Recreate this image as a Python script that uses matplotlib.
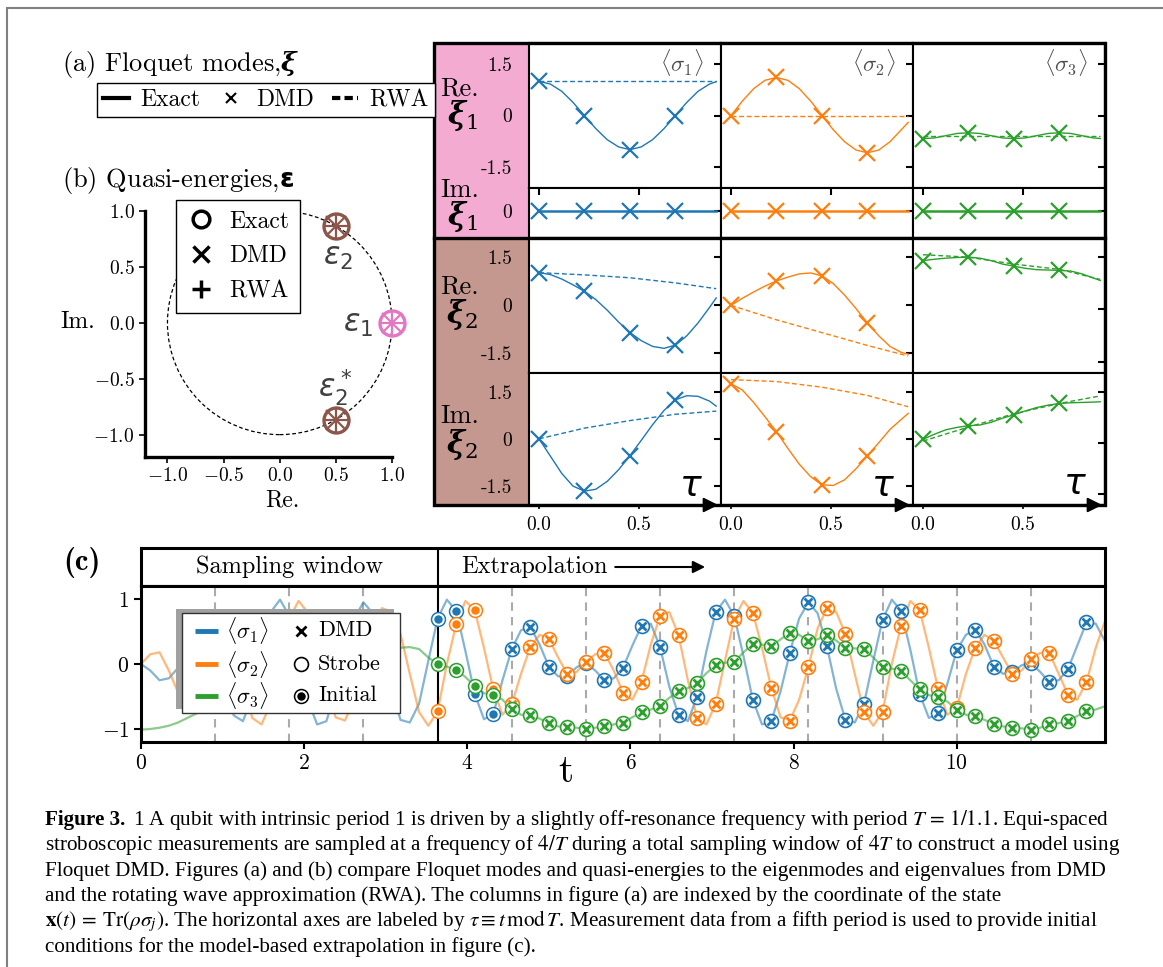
import numpy as np
import matplotlib
matplotlib.use('Agg')
import matplotlib.pyplot as plt
from matplotlib.patches import Rectangle, Circle
from matplotlib.lines import Line2D

plt.rcParams['font.family'] = 'serif'
plt.rcParams['font.serif'] = ['cmr10']
plt.rcParams['mathtext.fontset'] = 'cm'
plt.rcParams['axes.formatter.use_mathtext'] = True
plt.rcParams['axes.unicode_minus'] = True

T = 1 / 1.1
colors = ['#1f77b4', '#ff7f0e', '#2ca02c']
pink = '#e377c2'
brown = '#8c564b'

# ---------------- (a) Floquet modes, one list per column (sigma1, sigma2, sigma3)
tau = [0.0, 0.057, 0.114, 0.170, 0.227, 0.284, 0.341, 0.398, 0.455,
       0.511, 0.568, 0.625, 0.682, 0.739, 0.795, 0.852, 0.886]
tau_dmd = [0.0, 0.227, 0.455, 0.682]
tau_rwa = [0.0, 0.227, 0.455, 0.682, 0.886]
tau_flat = [0.0, 0.886]

re_xi1_exact = [
    [0.99, 0.91, 0.70, 0.38, 0.0, -0.38, -0.70, -0.91, -0.99, -0.91, -0.70, -0.38, 0.0, 0.38, 0.70, 0.91, 0.98],
    [0.0, 0.42, 0.78, 1.02, 1.10, 1.02, 0.78, 0.42, 0.0, -0.41, -0.76, -1.0, -1.08, -1.0, -0.76, -0.41, -0.2],
    [-0.67, -0.65, -0.585, -0.52, -0.5, -0.52, -0.585, -0.65, -0.67, -0.65, -0.585, -0.52, -0.5, -0.52, -0.585, -0.65, -0.665],
]
re_xi1_dmd = [[0.99, 0.0, -0.99, 0.0], [0.0, 1.11, 0.0, -1.08], [-0.67, -0.5, -0.67, -0.5]]
re_xi1_rwa = [[1.0, 1.0, 1.0, 1.0, 1.0], [0.0, 0.0, 0.0, 0.0, 0.0], [-0.6, -0.6, -0.6, -0.6, -0.6]]

im_xi1_exact = [[0.0, 0.0], [0.0, 0.0], [0.0, 0.0]]
im_xi1_dmd = [[0.0, 0.0, 0.0, 0.0], [0.0, 0.0, 0.0, 0.0], [0.0, 0.0, 0.0, 0.0]]

re_xi2_exact = [
    [1.02, 0.96, 0.82, 0.64, 0.44, 0.18, -0.15, -0.52, -0.85, -1.1, -1.28, -1.34, -1.24, -0.95, -0.55, -0.07, 0.23],
    [0.0, 0.22, 0.42, 0.6, 0.76, 0.88, 0.98, 1.01, 0.92, 0.68, 0.32, -0.1, -0.55, -0.95, -1.28, -1.47, -1.52],
    [1.40, 1.44, 1.47, 1.49, 1.50, 1.47, 1.40, 1.30, 1.24, 1.18, 1.14, 1.13, 1.12, 1.10, 1.02, 0.90, 0.83],
]
re_xi2_dmd = [[1.02, 0.44, -0.85, -1.24], [0.0, 0.76, 0.91, -0.55], [1.40, 1.50, 1.25, 1.12]]
re_xi2_rwa = [[1.02, 0.95, 0.86, 0.70, 0.52], [0.0, -0.45, -0.85, -1.25, -1.58], [1.57, 1.50, 1.30, 1.15, 0.86]]

im_xi2_exact = [
    [0.0, -0.55, -1.1, -1.5, -1.66, -1.6, -1.35, -0.98, -0.53, -0.05, 0.45, 0.9, 1.24, 1.37, 1.35, 1.2, 1.04],
    [1.75, 1.55, 1.15, 0.7, 0.23, -0.3, -0.8, -1.2, -1.46, -1.48, -1.3, -0.95, -0.54, -0.12, 0.3, 0.62, 0.81],
    [0.1, 0.25, 0.38, 0.45, 0.5, 0.52, 0.6, 0.72, 0.82, 0.93, 1.03, 1.1, 1.15, 1.17, 1.18, 1.19, 1.2],
]
im_xi2_dmd = [[0.0, -1.66, -0.53, 1.24], [1.75, 0.23, -1.48, -0.54], [0.1, 0.5, 0.82, 1.15]]
im_xi2_rwa = [[0.0, 0.34, 0.58, 0.78, 0.88], [1.88, 1.82, 1.64, 1.38, 1.02], [0.05, 0.46, 0.85, 1.15, 1.37]]

col_titles = [r'$\langle\sigma_1\rangle$', r'$\langle\sigma_2\rangle$', r'$\langle\sigma_3\rangle$']

# ---------------- (b) quasi-energies (eps1, eps2, eps2*)
eps_exact_re = [1.0, 0.5, 0.5]
eps_exact_im = [0.0, 0.866, -0.866]
eps_dmd_re = [1.0, 0.5, 0.5]
eps_dmd_im = [0.0, 0.866, -0.866]
eps_rwa_re = [1.0, 0.5, 0.5]
eps_rwa_im = [0.0, 0.866, -0.866]
eps_colors = [pink, brown, brown]

# ---------------- (c) time traces, sampled every T/8 from t = 0
s1_line = [0.0, -0.1, -0.25, -0.22, -0.06, 0.28, 0.59, 0.62,
           0.26, -0.35, -0.79, -0.88, -0.5, 0.2, 0.8, 0.99,
           0.74, 0.12, -0.55, -0.93, -0.88, -0.42, 0.17, 0.7,
           0.95, 0.78, 0.27, -0.38, -0.86, -0.9, -0.61, 0.05,
           0.70, 0.99, 0.82, 0.2, -0.46, -0.85, -0.77, -0.25,
           0.23, 0.52, 0.57, 0.3, -0.04, -0.19, -0.18, -0.05,
           0.02, -0.1, -0.25, -0.22, -0.06, 0.28, 0.59, 0.62,
           0.26, -0.35, -0.79, -0.88, -0.5, 0.2, 0.8, 0.99,
           0.74, 0.12, -0.55, -0.93, -0.88, -0.42, 0.17, 0.7,
           0.95, 0.78, 0.27, -0.38, -0.86, -0.9, -0.61, 0.05,
           0.68, 0.99, 0.82, 0.22, -0.46, -0.83, -0.76, -0.3,
           0.21, 0.45, 0.53, 0.3, -0.04, -0.15, -0.13, -0.02,
           0.01, -0.12, -0.28, -0.25, -0.08, 0.28, 0.64, 0.62,
           0.35]
s2_line = [0.0, 0.15, 0.18, -0.1, -0.44, -0.55, -0.27, 0.3,
           0.74, 0.82, 0.44, -0.25, -0.83, -0.93, -0.61, 0.05,
           0.70, 0.97, 0.79, 0.25, -0.37, -0.82, -0.87, -0.55,
           -0.05, 0.55, 0.86, 0.8, 0.46, -0.15, -0.74, -0.95,
           -0.73, 0.0, 0.61, 0.97, 0.83, 0.25, -0.39, -0.78,
           -0.62, -0.15, 0.26, 0.45, 0.39, 0.1, -0.16, -0.12,
           0.03, 0.15, 0.17, -0.1, -0.44, -0.55, -0.27, 0.3,
           0.74, 0.8, 0.44, -0.25, -0.83, -0.93, -0.61, 0.05,
           0.70, 0.97, 0.79, 0.25, -0.37, -0.82, -0.87, -0.55,
           -0.05, 0.55, 0.86, 0.8, 0.46, -0.15, -0.74, -0.95,
           -0.74, 0.0, 0.59, 0.97, 0.83, 0.25, -0.39, -0.78,
           -0.68, -0.15, 0.25, 0.45, 0.36, 0.1, -0.15, -0.1,
           0.08, 0.17, 0.17, -0.15, -0.47, -0.55, -0.28, 0.25,
           0.66]
s3_line = [-1.01, -1.0, -0.98, -0.95, -0.9, -0.83, -0.76, -0.72,
           -0.66, -0.54, -0.43, -0.38, -0.3, -0.15, -0.03, 0.01,
           0.03, 0.17, 0.3, 0.3, 0.27, 0.37, 0.47, 0.45,
           0.35, 0.37, 0.44, 0.36, 0.25, 0.26, 0.23, 0.1,
           0.0, -0.04, -0.09, -0.2, -0.34, -0.45, -0.47, -0.55,
           -0.69, -0.78, -0.79, -0.84, -0.91, -0.96, -0.97, -0.98,
           -1.0, -0.98, -0.96, -0.93, -0.9, -0.82, -0.74, -0.70,
           -0.64, -0.52, -0.42, -0.37, -0.29, -0.14, -0.02, 0.02,
           0.03, 0.18, 0.31, 0.3, 0.27, 0.38, 0.48, 0.45,
           0.35, 0.38, 0.45, 0.36, 0.25, 0.24, 0.23, 0.1,
           -0.04, -0.07, -0.11, -0.25, -0.39, -0.48, -0.5, -0.58,
           -0.70, -0.78, -0.80, -0.86, -0.92, -0.96, -0.98, -0.99,
           -1.01, -0.98, -0.93, -0.91, -0.88, -0.8, -0.73, -0.7,
           -0.65]
period_marks = [1, 2, 3, 5, 6, 7, 8, 9, 10, 11, 12]

W, H = 1163, 967
fig = plt.figure(figsize=(W / 100, H / 100), dpi=100)


def px_axes(x0, y0, x1, y1):
    return fig.add_axes([x0 / W, 1 - y1 / H, (x1 - x0) / W, (y1 - y0) / H])


def ftext(x, y, s, **kw):
    return fig.text(x / W, 1 - y / H, s, **kw)


def px_rect(x0, y0, x1, y1):
    return (x0 / W, 1 - y1 / H), (x1 - x0) / W, (y1 - y0) / H


def fline(xs, ys, **kw):
    return fig.add_artist(Line2D([x / W for x in xs], [1 - y / H for y in ys],
                                 transform=fig.transFigure, **kw))


# outer frame
fig.add_artist(Rectangle((7 / W, -0.05), 1.1, 1 - 8 / H + 0.05, transform=fig.transFigure,
                         fill=False, ec='0.5', lw=1.5))

# ================= (a)
ftext(62, 65, r'(a) Floquet modes,$\boldsymbol{\xi}$', fontsize=19, va='center',
      math_fontfamily='dejavuserif')
lw_handles = [Line2D([], [], color='k', lw=3),
              Line2D([], [], color='k', ls='none', marker='x', ms=7, mew=1.5),
              Line2D([], [], color='k', ls=(0, (2, 1)), lw=3)]
fig.legend(lw_handles, ['Exact', 'DMD', 'RWA'], ncol=3, loc='upper left',
           bbox_to_anchor=(97 / W, 1 - 83 / H), fontsize=17, fancybox=False,
           edgecolor='k', framealpha=1, handlelength=1.1, handletextpad=0.5,
           columnspacing=0.75, borderpad=0.25, borderaxespad=0)

# label column
fig.add_artist(Rectangle(*px_rect(434, 43, 529, 238), transform=fig.transFigure,
                         fc='#f3abd2', ec='none', zorder=0))
fig.add_artist(Rectangle(*px_rect(434, 238, 529, 505), transform=fig.transFigure,
                         fc='#c4978f', ec='none', zorder=0))

col_x = [(529, 721), (721, 913), (913, 1105)]
row_y = [(43, 188), (188, 238), (238, 372.7), (372.7, 505)]
rows = [(re_xi1_exact, re_xi1_dmd, re_xi1_rwa),
        (im_xi1_exact, im_xi1_dmd, None),
        (re_xi2_exact, re_xi2_dmd, re_xi2_rwa),
        (im_xi2_exact, im_xi2_dmd, im_xi2_rwa)]

for r, (ex, dm, rw) in enumerate(rows):
    for c in range(3):
        ax = px_axes(col_x[c][0], row_y[r][0], col_x[c][1], row_y[r][1])
        ax.set_xlim(-0.05, 0.91)
        if r == 1:
            ax.set_ylim(-0.6, 0.5)
            ax.plot(tau_flat, ex[c], color=colors[c], lw=1.8)
            ax.set_yticks([0])
            ax.set_yticklabels(['0'])
        else:
            if r >= 2 and c == 2:
                ax.set_ylim(-1.82, 2.05)
            else:
                ax.set_ylim(-2.1, 2.1)
            ax.plot(tau, ex[c], color=colors[c], lw=1.0)
            ax.plot(tau_rwa, rw[c], color=colors[c], lw=1.0, ls=(0, (3.5, 2)))
            ax.set_yticks([-1.5, 0, 1.5])
            ax.set_yticklabels(['-1.5', '0', '1.5'])
        ax.plot(tau_dmd, dm[c], ls='none', marker='x', ms=11, mew=1.6, color=colors[c])
        for s in ax.spines.values():
            s.set_linewidth(1.5)
        ax.tick_params(axis='y', which='both', left=False, right=True, direction='in',
                       length=5, width=1.5, labelleft=(c == 0), labelsize=14, pad=12)
        ax.set_xticks([0, 0.5])
        if r == 3:
            ax.tick_params(axis='x', direction='out', length=3, width=1.2, labelsize=14, pad=5)
            ax.set_xticklabels(['0.0', '0.5'])
            ax.annotate('', xy=(1.0, 0), xytext=(0.9, 0), xycoords='axes fraction',
                        arrowprops=dict(arrowstyle='-|>', color='k', lw=1.5, mutation_scale=22))
            ax.text(0.76, -1.52 if c < 2 else -1.25, r'$\tau$', fontsize=26, ha='center',
                    va='center', math_fontfamily='dejavusans')
        elif r == 1:
            ax.tick_params(axis='x', bottom=False, top=True, direction='in', length=5, width=1.5,
                           labelbottom=False)
        else:
            ax.tick_params(axis='x', bottom=False, labelbottom=False)
        if r == 0:
            ax.text(0.91, 0.975, col_titles[c], transform=ax.transAxes, ha='right', va='top',
                    fontsize=16.5, color='0.3')

# borders of the grid
fig.add_artist(Rectangle(*px_rect(434, 43, 1105, 505), transform=fig.transFigure,
                         fill=False, ec='k', lw=2.4, zorder=5))
fline([434, 1105], [238, 238], color='k', lw=2.4, zorder=5)

row_labels = [('Re.', r'$\boldsymbol{\xi}_1$', 89, 116), ('Im.', r'$\boldsymbol{\xi}_1$', 190, 217),
              ('Re.', r'$\boldsymbol{\xi}_2$', 287, 315), ('Im.', r'$\boldsymbol{\xi}_2$', 416, 445)]
for lab, xi, y1, y2 in row_labels:
    ftext(440, y1, lab, fontsize=19, va='center', ha='left')
    ftext(462, y2, xi, fontsize=22, va='center', ha='center', math_fontfamily='dejavuserif')

# ================= (b)
ftext(62, 180, r'(b) Quasi-energies,$\boldsymbol{\varepsilon}$', fontsize=19, va='center',
      math_fontfamily='dejavusans')
axb = px_axes(145, 211, 392, 457)
axb.set_xlim(-1.2, 1.0)
axb.set_ylim(-1.2, 1.0)
axb.add_patch(Circle((0, 0), 1.0, fill=False, ls=(0, (3, 2)), lw=0.9, color='k'))
for i in range(3):
    axb.plot(eps_exact_re[i], eps_exact_im[i], marker='o', ms=18, mfc='none', mec=eps_colors[i],
             mew=2.4, clip_on=False, zorder=3)
    axb.plot(eps_dmd_re[i], eps_dmd_im[i], marker='x', ms=15, mec=eps_colors[i], mew=1.6,
             clip_on=False, zorder=4)
    axb.plot(eps_rwa_re[i], eps_rwa_im[i], marker='+', ms=18, mec=eps_colors[i], mew=1.6,
             clip_on=False, zorder=4)
axb.text(0.52, 0.58, r'$\varepsilon_2$', fontsize=22, ha='center', va='center', color='0.25',
         math_fontfamily='dejavusans')
axb.text(0.70, -0.02, r'$\varepsilon_1$', fontsize=22, ha='center', va='center', color='0.25',
         math_fontfamily='dejavusans')
axb.text(0.49, -0.58, r'$\varepsilon_2^*$', fontsize=22, ha='center', va='center', color='0.25',
         math_fontfamily='dejavusans')
axb.spines['top'].set_visible(False)
axb.spines['right'].set_visible(False)
axb.spines['left'].set_linewidth(2.4)
axb.spines['bottom'].set_linewidth(2.4)
axb.spines['left'].set_bounds(-1.2, 1.0)
axb.set_xticks([-1.0, -0.5, 0.0, 0.5, 1.0])
axb.set_yticks([-1.0, -0.5, 0.0, 0.5, 1.0])
axb.tick_params(labelsize=14, length=4, width=1.2)
ftext(78, 322, 'Im.', fontsize=17, ha='center', va='center')
ftext(282, 500, 'Re.', fontsize=17, ha='center', va='center')
lb_handles = [Line2D([], [], ls='none', marker='o', ms=12, mfc='none', mec='k', mew=2.5),
              Line2D([], [], ls='none', marker='x', ms=11, mec='k', mew=2.5),
              Line2D([], [], ls='none', marker='+', ms=13, mec='k', mew=2.5)]
fig.legend(lb_handles, ['Exact', 'DMD', 'RWA'], loc='upper left',
           bbox_to_anchor=(176 / W, 1 - 200 / H), fontsize=17, fancybox=False,
           edgecolor='k', framealpha=1, handlelength=1.2, handletextpad=0.6,
           borderpad=0.45, labelspacing=0.53, borderaxespad=0)

# ================= (c)
t_line = np.arange(len(s1_line)) * T / 8
t_init = t_line[32:39:2]
t_strobe = t_line[40:103:2]
lines_c = [s1_line, s2_line, s3_line]

band = px_axes(141, 548, 1105, 586)
band.set_xlim(0, 13 * T)
band.set_ylim(0, 1)
band.set_xticks([])
band.set_yticks([])
band.axvline(4 * T, color='k', lw=1.5)
for s in band.spines.values():
    s.set_linewidth(2.2)
band.spines['bottom'].set_linewidth(1.5)
band.text(2 * T, 0.5, 'Sampling window', ha='center', va='center', fontsize=17.5)
band.text(3.93, 0.5, 'Extrapolation', ha='left', va='center', fontsize=17.5)
band.annotate('', xy=(6.95, 0.5), xytext=(5.78, 0.5),
              arrowprops=dict(arrowstyle='-|>', color='k', lw=1.5, mutation_scale=18))

axc = px_axes(141, 586, 1105, 742)
axc.set_xlim(0, 13 * T)
axc.set_ylim(-1.2, 1.2)
for n in period_marks:
    axc.axvline(n * T, color='#aaaaaa', ls=(0, (4, 3)), lw=1.5, zorder=0)
axc.axvline(4 * T, color='k', lw=1.5, zorder=1)
for c in range(3):
    axc.plot(t_line, lines_c[c], color=colors[c], alpha=0.55, lw=1.6, zorder=2)
for c in range(3):
    vals = np.array(lines_c[c])
    axc.plot(t_init, vals[32:39:2], ls='none', marker='o', ms=10, mfc='white', mec=colors[c],
             mew=1.1, zorder=3)
    axc.plot(t_init, vals[32:39:2], ls='none', marker='o', ms=7, mfc=colors[c], mec='white',
             mew=0.9, zorder=3)
    axc.plot(t_strobe, vals[40:103:2], ls='none', marker='o', ms=10, mfc='white',
             mec=colors[c], mew=1.2, zorder=3)
    axc.plot(t_strobe, vals[40:103:2], ls='none', marker='x', ms=6, mec=colors[c], mew=2.0,
             zorder=3)
for s in axc.spines.values():
    s.set_linewidth(2.2)
axc.set_xticks([0, 2, 4, 6, 8, 10])
axc.set_yticks([-1, 0, 1])
axc.tick_params(labelsize=15.5, length=5, width=1.5)

# legend of (c), laid out by hand on top of the axes (box with an offset shadow)
fig.add_artist(Rectangle(*px_rect(175.5, 609, 393.5, 709), transform=fig.transFigure,
                         fc='#a0a0a0', ec='none', zorder=2))
fig.add_artist(Rectangle(*px_rect(182, 613, 400, 713), transform=fig.transFigure,
                         fc='white', ec='0.2', lw=1.0, zorder=2.1))
leg_rows = [630.7, 664, 695.7]
for c in range(3):
    fline([195, 218], [leg_rows[c]] * 2, color=colors[c], lw=3.5, solid_capstyle='butt', zorder=3)
    ftext(226, leg_rows[c], col_titles[c], fontsize=16, va='center', ha='left', zorder=3)
fline([301], [leg_rows[0]], ls='none', marker='x', ms=7, mec='k', mew=2, zorder=3)
fline([301], [leg_rows[1]], ls='none', marker='o', ms=10, mfc='none', mec='k', mew=1.2, zorder=3)
fline([301], [leg_rows[2]], ls='none', marker='o', ms=10, mfc='white', mec='k', mew=1.1, zorder=3)
fline([301], [leg_rows[2]], ls='none', marker='o', ms=7, mfc='k', mec='white', mew=0.9, zorder=3)
for lab, yy in zip(['DMD', 'Strobe', 'Initial'], leg_rows):
    ftext(318, yy, lab, fontsize=16, va='center', ha='left', zorder=3)

ftext(82, 562, '(c)', fontsize=22, ha='center', va='center', family='cmb10')
ftext(566, 772, 't', fontsize=28, ha='center', va='center')

# ================= caption
cap_kw = dict(fontsize=15.2, family='Liberation Serif', va='center', ha='left', math_fontfamily='stix')
ftext(45, 820, 'Figure 3.', fontweight='bold', **cap_kw)
ftext(133, 820, r'1 A qubit with intrinsic period 1 is driven by a slightly off-resonance frequency '
      r'with period $T\,=\,1/1.1$. Equi-spaced', **cap_kw)
ftext(45, 845, r'stroboscopic measurements are sampled at a frequency of $4/T$ during a total '
      r'sampling window of $4T$ to construct a model using', **cap_kw)
ftext(45, 871, 'Floquet DMD. Figures (a) and (b) compare Floquet modes and quasi-energies to the '
      'eigenmodes and eigenvalues from DMD', **cap_kw)
ftext(45, 896, 'and the rotating wave approximation (RWA). The columns in figure (a) are indexed '
      'by the coordinate of the state', **cap_kw)
ftext(45, 921, r'$\mathbf{x}(t)\,=\;\mathrm{Tr}(\rho\sigma_j)$. The horizontal axes are labeled by '
      r'$\tau\equiv t\,\mathrm{mod}\,T$. Measurement data from a fifth period is used to provide initial',
      **cap_kw)
ftext(45, 947, 'conditions for the model-based extrapolation in figure (c).', **cap_kw)

fig.savefig('out.png', dpi=100)
